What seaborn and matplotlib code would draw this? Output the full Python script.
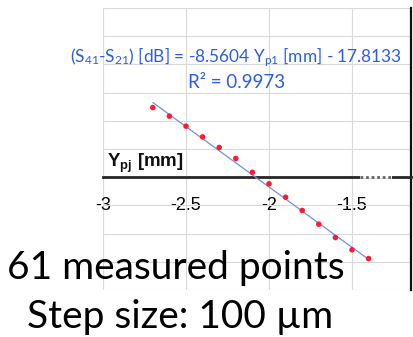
import numpy as np
import pandas as pd
import matplotlib
matplotlib.use("Agg")
import matplotlib.pyplot as plt
import seaborn as sns

# ---- data ----
ypj_mm = [-2.7, -2.6, -2.5, -2.4, -2.3, -2.2, -2.1, -2.0, -1.9, -1.8, -1.7, -1.6, -1.5, -1.4]
s41_minus_s21_db = [4.94, 4.33, 3.62, 2.86, 2.11, 1.33, 0.35, -0.47, -1.42, -2.36, -3.33, -4.28, -5.15, -5.77]
fit_slope = -8.5604
fit_intercept = -17.8133
fit_r2 = 0.9973
xticks = [-3, -2.5, -2, -1.5]
xtick_labels = ["-3", "-2.5", "-2", "-1.5"]
yticks = [-8, -6, -4, -2, 0, 2, 4, 6, 8, 10, 12]

sns.set_theme(style="white")
plt.rcParams['font.family'] = ['Lato', 'DejaVu Sans']
plt.rcParams['mathtext.default'] = 'regular'

W, H = 413, 337
fig = plt.figure(figsize=(W / 100, H / 100), dpi=100)
ax = fig.add_axes([103 / W, 1 - 290 / H, (411 - 103) / W, (290 - 8) / H])

df = pd.DataFrame({"x": ypj_mm, "y": s41_minus_s21_db})
fx = np.array([min(ypj_mm), max(ypj_mm)])
fit = pd.DataFrame({"x": fx, "y": fit_slope * fx + fit_intercept})

sns.lineplot(data=fit, x="x", y="y", ax=ax, color="#6f8ff0", lw=0.9, zorder=4)
sns.scatterplot(data=df, x="x", y="y", ax=ax, color="#ff1a2e", s=16,
                edgecolor="none", zorder=5)

ax.set_xlim(-3, -3 + (411 - 103) / 166)
ax.set_ylim(-8, 12)
ax.set_xticks(xticks)
ax.set_xticklabels(xtick_labels)
ax.set_yticks(yticks)
ax.set_yticklabels([])
ax.grid(True, color="#d9d9d9", lw=0.8)
ax.set_axisbelow(True)
ax.set_xlabel("")
ax.set_ylabel("")

for s in ["left", "top"]:
    ax.spines[s].set_visible(False)
ax.spines["right"].set_color("#111111")
ax.spines["right"].set_linewidth(1.6)
ax.spines["bottom"].set_position(("data", 0))
ax.spines["bottom"].set_color("#262626")
ax.spines["bottom"].set_linewidth(2)
ax.tick_params(axis="x", length=0, pad=14, labelsize=13, labelcolor="black")
ax.tick_params(axis="y", length=0)
for lab in ax.get_xticklabels():
    lab.set_fontfamily("Liberation Sans")

# dotted piece of the axis line
ax.hlines(0, -1.452, -1.259, color="white", lw=2.6, zorder=3)
ax.hlines(0, -1.452, -1.259, color="#666666", lw=2, linestyles=(0, (1, 1)), zorder=3.1)

blue = "#2a5cf0"
fig.text(236.5 / W, 1 - 57 / H,
         f"(S$_{{41}}$-S$_{{21}}$) [dB] = {fit_slope} Y$_{{p1}}$ [mm] - {abs(fit_intercept)}",
         ha="center", va="center", color=blue, fontsize=12.4)
fig.text(237 / W, 1 - 82 / H, f"R² = {fit_r2}",
         ha="center", va="center", color=blue, fontsize=13.5)

fig.text(107 / W, 1 - 167 / H, "Y$_{pj}$ [mm]", ha="left", va="baseline",
         fontfamily="Liberation Sans", fontweight="bold", fontsize=13.5, color="#111111")

fig.text(7 / W, 1 - 279 / H, "61 measured points", ha="left", va="baseline",
         fontsize=28, color="black")
fig.text(27 / W, 1 - 328 / H, "Step size: 100 µm", ha="left", va="baseline",
         fontsize=28, color="black")

fig.savefig("out.png", dpi=100)
